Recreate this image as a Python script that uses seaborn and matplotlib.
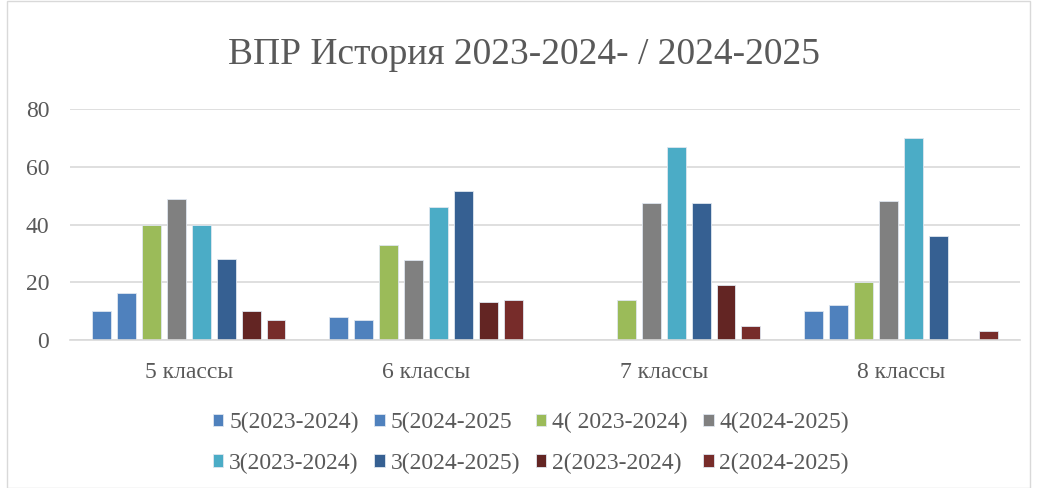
import numpy as np
import pandas as pd
import matplotlib
matplotlib.use("Agg")
import matplotlib.pyplot as plt
import seaborn as sns

# data
classes = ["5 классы", "6 классы", "7 классы", "8 классы"]
series = ["5(2023-2024)", "5(2024-2025", "4( 2023-2024)", "4(2024-2025)",
          "3(2023-2024)", "3(2024-2025)", "2(2023-2024)", "2(2024-2025)"]
v5_2324 = [10, 8, 0, 10]
v5_2425 = [16.3, 7, 0, 12]
v4_2324 = [40, 33, 14, 20]
v4_2425 = [49, 27.7, 47.6, 48]
v3_2324 = [40, 46, 67, 70]
v3_2425 = [28, 51.7, 47.6, 36]
v2_2324 = [10, 13, 19, 0]
v2_2425 = [7, 14, 5, 3.2]
colors = ["#4F81BD", "#4F81BD", "#9BBB59", "#808080",
          "#4BACC6", "#366092", "#632523", "#772C2A"]

values = [v5_2324, v5_2425, v4_2324, v4_2425, v3_2324, v3_2425, v2_2324, v2_2425]
rows = []
for s, vals in zip(series, values):
    for c, v in zip(classes, vals):
        rows.append({"class": c, "series": s, "value": v})
df = pd.DataFrame(rows)

sns.set_style("white")
plt.rcParams["font.family"] = ["Liberation Serif", "DejaVu Serif"]
txt = "#595959"

fig = plt.figure(figsize=(10.37, 4.88), dpi=100)
ax = fig.add_axes([0.0675, 0.3033, 0.916, 0.473])

sns.barplot(data=df, x="class", y="value", hue="series", hue_order=series,
            palette=colors, saturation=1, width=0.84, gap=0.24, ax=ax,
            edgecolor="#dfe6ef", linewidth=0.6, legend=True)

ax.set_ylim(0, 80)
ax.set_yticks([0, 20, 40, 60, 80])
ax.yaxis.grid(True, color="#d9d9d9", linewidth=1.2)
ax.set_axisbelow(True)
for sp in ["top", "right", "left"]:
    ax.spines[sp].set_visible(False)
ax.spines["bottom"].set_color("#d9d9d9")
ax.spines["bottom"].set_linewidth(1.2)
ax.set_xlabel("")
ax.set_ylabel("")
ax.tick_params(axis="both", length=0, labelsize=17, labelcolor=txt)
ax.tick_params(axis="y", pad=15)
ax.tick_params(axis="x", pad=16)

fig.text(0.505, 0.887, "ВПР История 2023-2024- / 2024-2025",
         ha="center", va="center", fontsize=27, color=txt)

handles, labels = ax.get_legend_handles_labels()
ax.get_legend().remove()
order = [0, 4, 1, 5, 2, 6, 3, 7]
fig.legend([handles[i] for i in order], [labels[i] for i in order],
           loc="center", bbox_to_anchor=(0.512, 0.092), ncol=4, frameon=False,
           fontsize=17, labelcolor=txt, handlelength=0.45, handleheight=0.45,
           handletextpad=0.25, columnspacing=0.65, labelspacing=0.82,
           borderpad=0, borderaxespad=0)

fig.patches.append(plt.Rectangle((0.007, 0.0), 0.986, 0.998, transform=fig.transFigure,
                                 fill=False, edgecolor="#d9d9d9", linewidth=1))

fig.savefig("out.png", dpi=100)
